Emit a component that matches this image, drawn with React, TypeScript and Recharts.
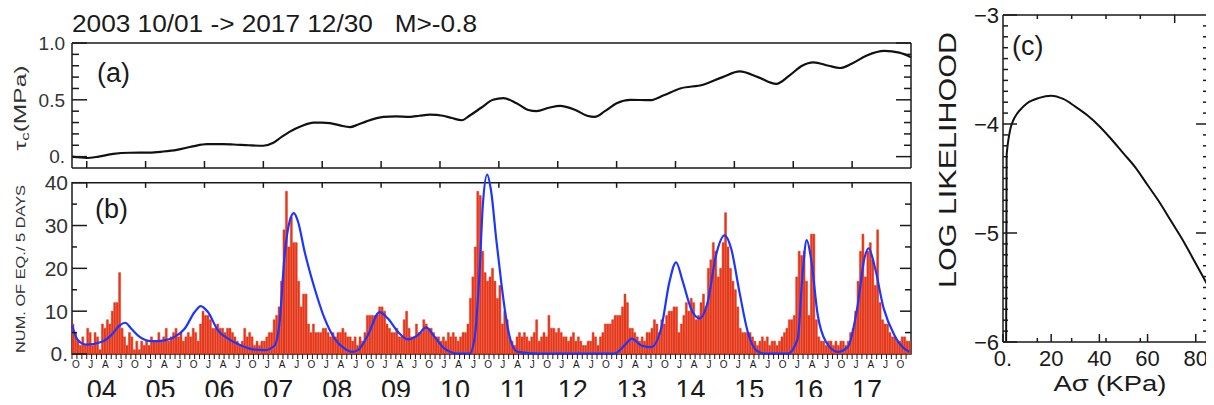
import React from "react";
import {
  Bar,
  ComposedChart,
  Line,
  LineChart,
  ReferenceArea,
  ReferenceLine,
  XAxis,
  YAxis,
} from "recharts";

const FONT = '"Liberation Sans", Arial, sans-serif';
const INK = "#1a1a1a";
const LABEL = "#333";
const RED = "#e5381b";
const BLUE = "#1c36ff";

const START = 2003.75; // 2003 10/01
const END = 2018.0; // 2017 12/30

// (a) tau_c in MPa, [decimal year, value]
const tauPoints: [number, number][] = [
  [2003.75, 0.0], [2003.85, -0.005], [2004.0, -0.012], [2004.2, 0.0], [2004.45, 0.025],
  [2004.74, 0.034], [2005.07, 0.035], [2005.3, 0.045], [2005.53, 0.06], [2005.8, 0.09],
  [2006.04, 0.11], [2006.3, 0.11], [2006.49, 0.107], [2006.75, 0.1], [2007.0, 0.096],
  [2007.16, 0.12], [2007.3, 0.17], [2007.45, 0.22], [2007.65, 0.27], [2007.85, 0.3],
  [2008.0, 0.3], [2008.13, 0.295], [2008.3, 0.275], [2008.47, 0.26], [2008.6, 0.28],
  [2008.75, 0.31], [2009.04, 0.35], [2009.25, 0.355], [2009.49, 0.35], [2009.65, 0.36],
  [2009.83, 0.37], [2010.05, 0.36], [2010.2, 0.34], [2010.37, 0.32], [2010.5, 0.36],
  [2010.7, 0.43], [2010.9, 0.5], [2011.08, 0.515], [2011.3, 0.47], [2011.5, 0.41],
  [2011.64, 0.4], [2011.85, 0.43], [2012.04, 0.447], [2012.3, 0.41], [2012.5, 0.36],
  [2012.63, 0.35], [2012.8, 0.4], [2013.0, 0.47], [2013.23, 0.5], [2013.57, 0.497],
  [2013.8, 0.54], [2014.08, 0.6], [2014.47, 0.633], [2014.8, 0.7], [2015.09, 0.75],
  [2015.4, 0.7], [2015.71, 0.64], [2015.95, 0.72], [2016.15, 0.8], [2016.34, 0.83],
  [2016.6, 0.8], [2016.79, 0.78], [2017.0, 0.82], [2017.25, 0.89], [2017.55, 0.93],
  [2017.8, 0.915], [2018.0, 0.875],
];

// (b) number of events per 5 days, read as two values per month
const counts2003 = [7, 5, 3, 2, 4, 2]; // Oct - Dec
const counts2004 = [6, 5, 2, 5, 4, 1, 7, 6, 8, 7, 10, 12, 12, 19, 6, 4, 2, 5, 4, 1, 3, 1, 3, 2];
const counts2005 = [3, 2, 4, 3, 3, 5, 3, 4, 6, 3, 4, 5, 6, 4, 5, 3, 4, 5, 4, 6, 5, 3, 7, 10];
const counts2006 = [9, 9, 8, 6, 6, 7, 6, 6, 5, 6, 6, 5, 4, 3, 2, 3, 6, 4, 5, 4, 2, 3, 2, 3];
const counts2007 = [3, 4, 5, 5, 8, 9, 11, 17, 29, 38, 25, 32, 26, 26, 17, 11, 14, 14, 7, 5, 7, 5, 5, 5];
const counts2008 = [6, 6, 5, 4, 5, 4, 5, 5, 6, 5, 4, 4, 3, 4, 2, 4, 3, 5, 9, 9, 9, 9, 9, 11];
const counts2009 = [11, 10, 7, 6, 5, 5, 6, 4, 4, 8, 10, 6, 4, 4, 7, 5, 5, 8, 7, 6, 6, 5, 4, 4];
const counts2010 = [3, 4, 3, 5, 4, 5, 4, 3, 4, 5, 5, 7, 13, 18, 25, 38, 37, 24, 19, 17, 18, 20, 17, 13];
const counts2011 = [16, 7, 10, 8, 4, 3, 2, 4, 5, 4, 5, 4, 3, 4, 5, 8, 3, 4, 5, 4, 9, 6, 6, 5];
const counts2012 = [6, 5, 4, 4, 3, 4, 5, 3, 4, 3, 2, 2, 3, 3, 5, 4, 2, 4, 5, 7, 7, 7, 8, 9];
const counts2013 = [9, 9, 11, 14, 12, 6, 6, 5, 4, 3, 4, 3, 5, 5, 6, 8, 7, 5, 8, 7, 9, 10, 10, 11];
const counts2014 = [11, 5, 7, 9, 12, 10, 13, 12, 8, 9, 12, 14, 11, 20, 22, 26, 24, 18, 20, 26, 33, 25, 20, 17];
const counts2015 = [15, 11, 6, 5, 5, 5, 5, 4, 3, 2, 3, 4, 3, 4, 2, 3, 3, 2, 3, 4, 5, 6, 8, 8];
const counts2016 = [9, 18, 24, 23, 24, 17, 9, 28, 28, 8, 4, 3, 3, 2, 3, 3, 2, 3, 2, 3, 3, 2, 3, 5];
const counts2017 = [6, 10, 17, 24, 28, 18, 24, 26, 22, 16, 29, 12, 8, 7, 7, 5, 4, 4, 3, 3, 4, 4, 3, 3];

// (b) model rate (blue), [decimal year, value]
const ratePoints: [number, number][] = [
  [2003.75, 6.7], [2003.852, 3.2], [2003.993, 2.2], [2004.247, 2.8], [2004.417, 4.4],
  [2004.56, 6.7], [2004.655, 7.3], [2004.757, 5.9], [2004.899, 4.0], [2005.096, 3.0],
  [2005.324, 3.2], [2005.494, 4.0], [2005.663, 5.9], [2005.833, 9.8], [2005.935, 11.2],
  [2006.059, 9.8], [2006.229, 5.5], [2006.399, 3.6], [2006.624, 2.0], [2006.852, 1.0],
  [2007.022, 0.9], [2007.191, 2.0], [2007.276, 7.5], [2007.361, 23], [2007.446, 31],
  [2007.519, 32.9], [2007.587, 31], [2007.701, 23.9], [2007.871, 15.3], [2008.04, 8.3],
  [2008.21, 3.6], [2008.38, 1.25], [2008.504, 0.5], [2008.606, 0.9], [2008.776, 4.4],
  [2008.974, 9.8], [2009.115, 8.3], [2009.285, 5.2], [2009.455, 3.4], [2009.624, 4.4],
  [2009.765, 6.2], [2009.908, 4.0], [2010.078, 1.25], [2010.303, 0.1], [2010.502, 0.1],
  [2010.587, 3.6], [2010.672, 19.2], [2010.728, 34.8], [2010.801, 41.9], [2010.869, 38],
  [2010.954, 27], [2011.039, 16.9], [2011.124, 8.3], [2011.208, 2.8], [2011.322, 0.5],
  [2011.662, 0.1], [2012.227, 0.1], [2012.964, 0.1], [2013.134, 2.0], [2013.258, 3.6],
  [2013.416, 2.0], [2013.585, 1.6], [2013.755, 5.9], [2013.898, 16.9], [2014.01, 21.4],
  [2014.124, 16.9], [2014.264, 10.6], [2014.407, 8.3], [2014.548, 12.2], [2014.689, 23.1],
  [2014.832, 27.7], [2014.944, 24.7], [2015.086, 14.5], [2015.227, 5.2], [2015.368, 0.9],
  [2015.511, 0.1], [2015.906, 0.1], [2016.076, 3.6], [2016.161, 19.2], [2016.229, 26.6],
  [2016.302, 22.3], [2016.416, 9.1], [2016.557, 2.8], [2016.755, 0.5], [2016.925, 1.6],
  [2017.095, 11.4], [2017.208, 22.3], [2017.282, 24.7], [2017.377, 20.8], [2017.537, 10.6],
  [2017.718, 4.4], [2017.887, 1.25], [2017.972, 0.5],
];

// (c) log likelihood against A sigma (KPa)
const likelihoodPoints: [number, number][] = [
  [1.3, -6.0], [1.5, -4.3], [1.8, -4.22], [2.2, -4.15], [3, -4.05], [4, -3.98], [6, -3.9],
  [8, -3.85], [10, -3.81], [15, -3.76], [20, -3.74], [25, -3.77], [30, -3.84], [35, -3.92],
  [40, -4.02], [45, -4.14], [50, -4.27], [55, -4.4], [60, -4.56], [65, -4.72], [70, -4.9],
  [75, -5.08], [80, -5.28], [85, -5.48], [85.5, -5.5],
];

const yearTicks = [2004, 2005, 2006, 2007, 2008, 2009, 2010, 2011, 2012, 2013, 2014, 2015, 2016, 2017];
const yearLabels = ["04", "05", "06", "07", "08", "09", "10", "11", "12", "13", "14", "15", "16", "17"];
const monthLetters: Record<number, string> = { 0: "J", 3: "A", 6: "J", 9: "O" };

const tauData = tauPoints.map(([year, tau]) => ({ year, tau }));
const rateData = ratePoints.map(([year, v]) => ({ year, v }));
const llData = likelihoodPoints.map(([a, ll]) => ({ a, ll }));
const allCounts = [
  ...counts2003, ...counts2004, ...counts2005, ...counts2006, ...counts2007,
  ...counts2008, ...counts2009, ...counts2010, ...counts2011, ...counts2012,
  ...counts2013, ...counts2014, ...counts2015, ...counts2016, ...counts2017,
];
const binData = allCounts.map((n, i) => ({ bin: i, n }));

const monthTicks = Array.from({ length: 171 }, (_, i) => START + i / 12);
const tauMinor = [0.1, 0.2, 0.3, 0.4, 0.6, 0.7, 0.8, 0.9];
const llMinorY = Array.from({ length: 31 }, (_, i) => Math.round((-6 + i * 0.1) * 10) / 10).filter(
  (v) => !Number.isInteger(v)
);
const llMinorX = [4, 8, 12, 16, 24, 28, 32, 36, 44, 48, 52, 56, 64, 68, 72, 76, 84];

const frame = { stroke: INK, strokeWidth: 1.5 };

// tick lines only, no text
const NoTick = () => <g />;

const MonthTick = (props: any) => {
  const { x, y, payload } = props;
  const idx = Math.round((payload.value - START) * 12);
  const month = (9 + idx) % 12;
  const letter = monthLetters[month];
  const yi = month === 0 ? yearTicks.indexOf(Math.round(payload.value)) : -1;
  return (
    <g fontFamily={FONT} fill={INK}>
      {letter && (
        <text x={x + 4} y={y + 7} textAnchor="middle" fontSize={10}>
          {letter}
        </text>
      )}
      {yi >= 0 && (
        <text x={x + 15} y={y + 38} textAnchor="middle" fontSize={27}>
          {yearLabels[yi]}
        </text>
      )}
    </g>
  );
};

const App: React.FC = () => {
  return (
    <div style={{ position: "relative", width: 1214, height: 405, margin: -8, background: "#fff", overflow: "hidden" }}>
      {/* (a) */}
      <div style={{ position: "absolute", left: 0, top: 0 }}>
        <LineChart width={1214} height={180} data={tauData} margin={{ top: 43, right: 302, bottom: 12, left: 0 }}>
          <XAxis xAxisId="t" dataKey="year" type="number" domain={[START, END]} orientation="bottom" mirror
            height={1} ticks={yearTicks} interval={0} tick={NoTick} tickSize={7} axisLine={frame} tickLine={frame} />
          <XAxis xAxisId="top" type="number" domain={[START, END]} allowDataOverflow orientation="top" mirror
            height={1} ticks={yearTicks} interval={0} tick={NoTick} tickSize={7} axisLine={frame} tickLine={frame} />
          <YAxis yAxisId="y" type="number" domain={[-0.1, 1]} ticks={[0, 0.5, 1]} interval={0} width={72}
            tickSize={-15} tickMargin={22} axisLine={frame} tickLine={frame}
            tick={{ fill: LABEL, fontSize: 19, fontFamily: FONT }}
            tickFormatter={(v: number) => (v === 0 ? "0." : v.toFixed(1))} />
          <YAxis yAxisId="yl" type="number" domain={[-0.1, 1]} allowDataOverflow mirror width={1} ticks={tauMinor}
            interval={0} tick={NoTick} tickSize={7} axisLine={false} tickLine={frame} />
          <YAxis yAxisId="yr" orientation="right" type="number" domain={[-0.1, 1]} allowDataOverflow mirror width={1}
            ticks={tauMinor} interval={0} tick={NoTick} tickSize={7} axisLine={frame} tickLine={frame} />
          <YAxis yAxisId="yr2" orientation="right" type="number" domain={[-0.1, 1]} allowDataOverflow width={1}
            ticks={[0, 0.5, 1]} interval={0} tick={NoTick} tickSize={-15} axisLine={false} tickLine={frame} />
          <Line xAxisId="t" yAxisId="y" dataKey="tau" type="monotone" stroke="#111" strokeWidth={2.2}
            dot={false} isAnimationActive={false} />
        </LineChart>
      </div>

      {/* (b) */}
      <div style={{ position: "absolute", left: 0, top: 0 }}>
        <ComposedChart width={1214} height={405} data={binData} barCategoryGap={0} barGap={0}
          margin={{ top: 172, right: 302, bottom: 0, left: 0 }}>
          <XAxis xAxisId="t" dataKey="year" type="number" domain={[START, END]} height={51} ticks={monthTicks}
            interval={0} tickSize={5} tickMargin={2} axisLine={false} tickLine={{ stroke: INK, strokeWidth: 1 }}
            tick={<MonthTick />} />
          <XAxis xAxisId="yrIn" type="number" domain={[START, END]} allowDataOverflow mirror height={1}
            ticks={yearTicks} interval={0} tick={NoTick} tickSize={6} axisLine={false} tickLine={frame} />
          <XAxis xAxisId="cat" dataKey="bin" hide height={0} />
          <YAxis yAxisId="y" type="number" domain={[0, 42.5]} ticks={[0, 10, 20, 30, 40]} interval={0} width={72}
            tickSize={-15} tickMargin={19} axisLine={false} tickLine={frame}
            tick={{ fill: LABEL, fontSize: 21, fontFamily: FONT }}
            tickFormatter={(v: number) => (v === 0 ? "0." : String(v))} />
          <YAxis yAxisId="yl" type="number" domain={[0, 42.5]} allowDataOverflow mirror width={1}
            ticks={[5, 15, 25, 35]} interval={0} tick={NoTick} tickSize={5} axisLine={false} tickLine={frame} />
          <YAxis yAxisId="yr" orientation="right" type="number" domain={[0, 42.5]} allowDataOverflow mirror width={1}
            ticks={[5, 15, 25, 35]} interval={0} tick={NoTick} tickSize={6} axisLine={false} tickLine={frame} />
          <YAxis yAxisId="yr2" orientation="right" type="number" domain={[0, 42.5]} allowDataOverflow width={1}
            ticks={[10, 20, 30]} interval={0} tick={NoTick} tickSize={-11} axisLine={false} tickLine={frame} />
          <Bar xAxisId="cat" yAxisId="y" dataKey="n" fill={RED} stroke={RED} strokeWidth={0.5}
            isAnimationActive={false} />
          <ReferenceArea xAxisId="t" yAxisId="y" x1={START} x2={END} y1={0} y2={40} fill="none"
            stroke={INK} strokeWidth={1.5} ifOverflow="visible" />
          {yearTicks.map((yr) => (
            <ReferenceLine key={yr} xAxisId="t" yAxisId="y" segment={[{ x: yr, y: 40 }, { x: yr, y: 38.8 }]}
              stroke={INK} strokeWidth={1.5} />
          ))}
          <Line xAxisId="t" yAxisId="y" data={rateData} dataKey="v" type="monotone" stroke={BLUE}
            strokeWidth={2.2} dot={false} isAnimationActive={false} />
        </ComposedChart>
      </div>

      {/* (c) */}
      <div style={{ position: "absolute", left: 930, top: 0 }}>
        <LineChart width={284} height={405} data={llData} margin={{ top: 14, right: 4, bottom: 33, left: 0 }}>
          <XAxis xAxisId="x" dataKey="a" type="number" domain={[0, 85.5]} ticks={[0, 20, 40, 60, 80]} interval={0}
            height={30} tickSize={-8} tickMargin={16} axisLine={frame} tickLine={frame}
            tick={{ fill: INK, fontSize: 22, fontFamily: FONT }}
            tickFormatter={(v: number) => (v === 0 ? "0." : String(v))} />
          <XAxis xAxisId="xm" type="number" domain={[0, 85.5]} allowDataOverflow mirror height={1} ticks={llMinorX}
            interval={0} tick={NoTick} tickSize={4} axisLine={false} tickLine={frame} />
          <XAxis xAxisId="xt" orientation="top" type="number" domain={[0, 85.5]} allowDataOverflow mirror height={1}
            ticks={llMinorX} interval={0} tick={NoTick} tickSize={4} axisLine={frame} tickLine={frame} />
          <XAxis xAxisId="xt2" orientation="top" type="number" domain={[0, 85.5]} allowDataOverflow height={1}
            ticks={[20, 40, 60, 80]} interval={0} tick={NoTick} tickSize={-8} axisLine={false} tickLine={frame} />
          <YAxis yAxisId="y" type="number" domain={[-6, -3]} ticks={[-6, -5, -4, -3]} interval={0} width={73}
            tickSize={-14} tickMargin={18} axisLine={frame} tickLine={frame}
            tick={{ fill: INK, fontSize: 22, fontFamily: FONT }}
            tickFormatter={(v: number) => "\u2212" + Math.abs(v)} />
          <YAxis yAxisId="yl" type="number" domain={[-6, -3]} allowDataOverflow mirror width={1} ticks={llMinorY}
            interval={0} tick={NoTick} tickSize={5} axisLine={false} tickLine={frame} />
          <YAxis yAxisId="yr" orientation="right" type="number" domain={[-6, -3]} allowDataOverflow mirror width={1}
            ticks={llMinorY} interval={0} tick={NoTick} tickSize={6} axisLine={frame} tickLine={frame} />
          <YAxis yAxisId="yr2" orientation="right" type="number" domain={[-6, -3]} allowDataOverflow width={1}
            ticks={[-5, -4]} interval={0} tick={NoTick} tickSize={-13} axisLine={false} tickLine={frame} />
          <Line xAxisId="x" yAxisId="y" dataKey="ll" type="monotone" stroke="#111" strokeWidth={2}
            dot={false} isAnimationActive={false} />
        </LineChart>
      </div>

      {/* titles and panel letters */}
      <svg width={1214} height={405} style={{ position: "absolute", left: 0, top: 0, pointerEvents: "none" }}>
        <g fontFamily={FONT} fill={INK}>
          <text x={72} y={32} fontSize={23} textLength={405} lengthAdjust="spacingAndGlyphs" style={{ whiteSpace: "pre" }}>
            2003 10/01 -&gt; 2017 12/30   M&gt;-0.8
          </text>
          <text x={97} y={82} fontSize={27}>(a)</text>
          <text x={95} y={218} fontSize={27}>(b)</text>
          <text x={1012} y={55} fontSize={27}>(c)</text>
          <text transform="translate(26,108) rotate(-90)" textAnchor="middle" fontSize={16} fill={LABEL}
            textLength={85} lengthAdjust="spacingAndGlyphs">
            τ<tspan fontSize={11} dy={3}>c</tspan><tspan dy={-3}>(MPa)</tspan>
          </text>
          <text transform="translate(25,269) rotate(-90)" textAnchor="middle" fontSize={13} fill={LABEL}
            textLength={168} lengthAdjust="spacingAndGlyphs">
            NUM. OF EQ./ 5 DAYS
          </text>
          <text transform="translate(956,160) rotate(-90)" textAnchor="middle" fontSize={23}
            textLength={256} lengthAdjust="spacingAndGlyphs">
            LOG LIKELIHOOD
          </text>
          <text x={1110} y={391} textAnchor="middle" fontSize={22} textLength={113} lengthAdjust="spacingAndGlyphs">
            Aσ (KPa)
          </text>
        </g>
      </svg>
    </div>
  );
};

export default App;
